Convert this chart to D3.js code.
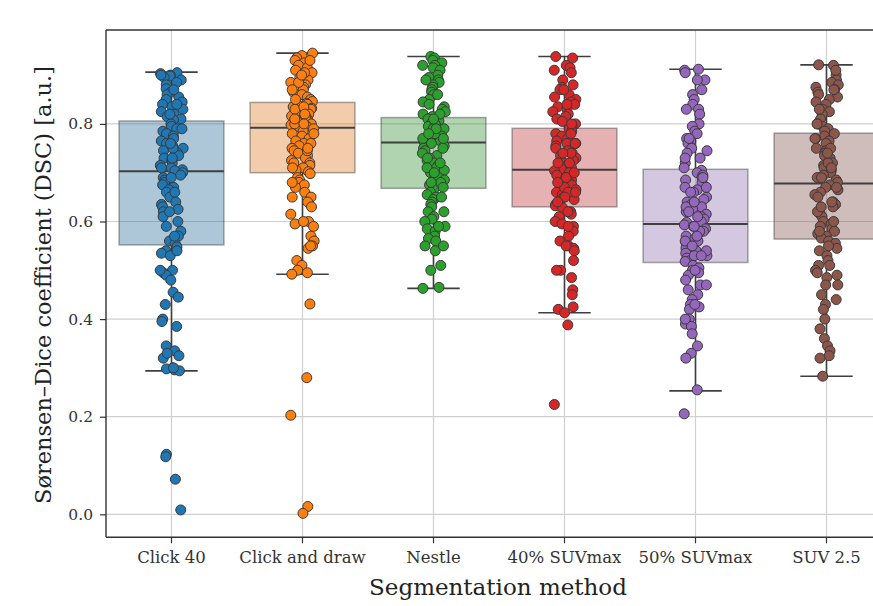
<!DOCTYPE html>
<html>
<head>
<meta charset="utf-8">
<script src="https://cdn.jsdelivr.net/npm/d3@7"></script>
<style>
  html, body { margin: 0; padding: 0; background: #ffffff; }
  svg { display: block; }
</style>
</head>
<body>
<svg id="chart" width="873" height="606"></svg>
<script>
// ---------------- DATA ----------------
const categories = ["Click 40", "Click and draw", "Nestle", "40% SUVmax", "50% SUVmax", "SUV 2.5"];

// box statistics
const q1Values      = [0.552, 0.700, 0.668, 0.630, 0.516, 0.564];
const medianValues  = [0.703, 0.792, 0.762, 0.706, 0.595, 0.678];
const q3Values      = [0.806, 0.844, 0.813, 0.791, 0.707, 0.781];
const whiskerLow    = [0.294, 0.492, 0.463, 0.413, 0.253, 0.283];
const whiskerHigh   = [0.906, 0.945, 0.938, 0.938, 0.912, 0.921];

// individual DSC values (strip points) per method
const click40 = [0.905,0.903,0.900,0.898,0.895,0.890,0.885,0.880,0.872,0.865,0.860,0.855,0.850,0.845,0.840,0.835,0.830,0.825,0.820,0.815,0.810,0.808,
  0.800,0.795,0.790,0.785,0.780,0.775,0.770,0.765,0.760,0.755,0.750,0.745,0.740,0.735,0.730,0.725,0.720,0.715,0.710,0.706,0.704,0.750,
  0.700,0.695,0.690,0.685,0.680,0.675,0.670,0.665,0.660,0.650,0.640,0.635,0.630,0.625,0.620,0.610,0.600,0.590,0.580,0.570,0.560,0.555,
  0.548,0.540,0.535,0.530,0.500,0.495,0.490,0.480,0.455,0.445,0.430,0.400,0.395,0.385,0.345,0.335,0.325,0.320,0.300,0.298,0.296,0.294,
  0.123,0.118,0.072,0.009,
  0.900,0.870,0.840,0.820,0.790,0.760,0.730,0.710,0.690,0.660,0.620,0.570,0.540,0.500,0.330,0.300];
const clickDraw = [0.945,0.940,0.935,0.930,0.925,0.920,0.915,0.910,0.905,0.900,0.895,0.890,0.885,0.880,0.875,0.870,0.865,0.860,0.855,0.850,0.846,0.905,0.885,
  0.842,0.840,0.838,0.835,0.832,0.830,0.826,0.822,0.820,0.816,0.812,0.810,0.806,0.800,0.798,0.795,0.794,0.830,0.815,0.805,0.800,
  0.790,0.785,0.780,0.775,0.770,0.765,0.760,0.755,0.750,0.745,0.740,0.735,0.730,0.725,0.720,0.715,0.710,0.705,0.702,0.760,0.745,
  0.698,0.690,0.685,0.680,0.675,0.670,0.660,0.650,0.640,0.630,0.615,0.600,0.595,0.590,0.570,0.560,0.550,0.545,0.520,0.510,0.500,0.495,0.492,
  0.431,0.280,0.203,0.016,0.002,
  0.930,0.900,0.870,0.850,0.835,0.820,0.810,0.800,0.780,0.750,0.720,0.710,0.680,0.650,0.600,0.550];
const nestle = [0.938,0.935,0.930,0.925,0.920,0.915,0.910,0.900,0.895,0.890,0.885,0.880,0.875,0.870,0.865,0.860,0.850,0.845,0.840,0.835,0.830,0.825,0.820,0.815,
  0.810,0.806,0.800,0.797,0.795,0.790,0.787,0.785,0.780,0.777,0.775,0.770,0.767,0.765,0.763,0.800,0.790,0.780,0.770,
  0.760,0.755,0.750,0.745,0.740,0.735,0.730,0.725,0.720,0.715,0.710,0.705,0.700,0.695,0.690,0.685,0.680,0.675,0.670,0.730,0.710,
  0.665,0.660,0.655,0.650,0.645,0.640,0.635,0.630,0.620,0.610,0.605,0.600,0.590,0.585,0.580,0.570,0.565,0.560,0.550,0.540,0.510,0.500,0.465,0.463,
  0.920,0.890,0.860,0.820,0.810,0.790,0.780,0.770,0.750,0.720,0.700,0.680,0.650,0.620,0.590,0.550];
const suv40 = [0.938,0.935,0.920,0.915,0.905,0.890,0.880,0.875,0.870,0.860,0.855,0.850,0.845,0.840,0.835,0.830,0.825,0.820,0.815,0.810,0.805,0.800,0.795,
  0.790,0.785,0.780,0.775,0.770,0.765,0.760,0.755,0.750,0.745,0.740,0.735,0.730,0.725,0.720,0.715,0.710,0.708,0.760,0.740,0.720,
  0.704,0.700,0.695,0.690,0.685,0.680,0.675,0.670,0.665,0.660,0.655,0.650,0.645,0.640,0.635,0.632,0.690,0.670,0.660,0.650,
  0.628,0.620,0.615,0.610,0.600,0.595,0.590,0.580,0.570,0.560,0.550,0.545,0.540,0.520,0.500,0.485,0.460,0.450,0.425,0.420,0.413,0.388,0.225,
  0.910,0.870,0.840,0.800,0.780,0.760,0.740,0.720,0.700,0.680,0.660,0.640,0.620,0.590,0.550,0.500];
const suv50 = [0.912,0.910,0.905,0.890,0.870,0.860,0.850,0.840,0.830,0.820,0.800,0.795,0.785,0.780,0.770,0.765,0.760,0.750,0.745,0.740,0.730,0.720,0.710,
  0.705,0.700,0.695,0.690,0.685,0.680,0.670,0.665,0.660,0.650,0.645,0.640,0.635,0.630,0.625,0.620,0.615,0.610,0.605,0.600,0.598,0.660,0.630,0.610,
  0.593,0.590,0.585,0.580,0.575,0.570,0.565,0.560,0.555,0.550,0.545,0.540,0.535,0.530,0.525,0.520,0.518,0.580,0.560,0.540,0.530,
  0.510,0.505,0.500,0.495,0.490,0.480,0.470,0.460,0.450,0.440,0.430,0.425,0.420,0.400,0.390,0.385,0.370,0.345,0.330,0.320,0.255,0.206,
  0.890,0.830,0.770,0.730,0.690,0.670,0.640,0.620,0.590,0.570,0.550,0.530,0.500,0.470,0.430,0.400];
const suv25 = [0.921,0.920,0.900,0.890,0.885,0.880,0.875,0.870,0.865,0.860,0.855,0.850,0.845,0.840,0.830,0.825,0.820,0.810,0.800,0.795,0.790,0.785,
  0.780,0.775,0.770,0.765,0.760,0.750,0.745,0.740,0.735,0.730,0.720,0.715,0.710,0.705,0.700,0.695,0.690,0.685,0.680,0.750,0.720,
  0.675,0.670,0.665,0.660,0.655,0.650,0.640,0.635,0.630,0.620,0.615,0.610,0.600,0.595,0.590,0.585,0.580,0.575,0.570,0.566,0.640,0.620,
  0.560,0.555,0.545,0.540,0.530,0.520,0.510,0.500,0.495,0.490,0.485,0.470,0.450,0.430,0.420,0.400,0.380,0.360,0.345,0.335,0.325,0.320,0.283,
  0.910,0.870,0.830,0.800,0.770,0.740,0.710,0.690,0.670,0.630,0.600,0.580,0.550,0.510,0.470,0.440];
const pointSeries = [click40, clickDraw, nestle, suv40, suv50, suv25];

const yTicks = [0.0, 0.2, 0.4, 0.6, 0.8];
const yDomain = [-0.0471, 0.9924];

const pointColors = ["#1f77b4", "#ff7f0e", "#2ca02c", "#d62728", "#9467bd", "#8c564b"];
const boxColors   = ["#3274a1", "#e1812c", "#3a923a", "#c03d3e", "#9372b2", "#845b53"];

// ---------------- LAYOUT ----------------
const svg = d3.select("#chart");
const margin = { left: 106, top: 30 };
const plotW = 786, plotH = 507.3;
const fontFam = "'DejaVu Serif', 'Liberation Serif', serif";

const x = d3.scaleBand().domain(categories).range([margin.left, margin.left + plotW]).paddingInner(0).paddingOuter(0);
const y = d3.scaleLinear().domain(yDomain).range([margin.top + plotH, margin.top]);
const bw = x.bandwidth();
const boxW = bw * 0.8;
const capW = boxW * 0.5;

const g = svg.append("g");

// grid
g.append("g").selectAll("line.hg").data(yTicks).join("line")
  .attr("x1", margin.left).attr("x2", margin.left + plotW)
  .attr("y1", d => y(d)).attr("y2", d => y(d))
  .attr("stroke", "#cfcfcf").attr("stroke-width", 1.2);
g.append("g").selectAll("line.vg").data(categories).join("line")
  .attr("x1", d => x(d) + bw / 2).attr("x2", d => x(d) + bw / 2)
  .attr("y1", margin.top).attr("y2", margin.top + plotH)
  .attr("stroke", "#cfcfcf").attr("stroke-width", 1.2);

// boxes
const boxData = categories.map((c, i) => ({
  c, i, q1: q1Values[i], med: medianValues[i], q3: q3Values[i], lo: whiskerLow[i], hi: whiskerHigh[i]
}));
const bg = g.append("g").selectAll("g").data(boxData).join("g");
bg.append("rect")
  .attr("x", d => x(d.c) + (bw - boxW) / 2)
  .attr("width", boxW)
  .attr("y", d => y(d.q3))
  .attr("height", d => y(d.q1) - y(d.q3))
  .attr("fill", d => boxColors[d.i]).attr("fill-opacity", 0.4)
  .attr("stroke", "#3f3f3f").attr("stroke-opacity", 0.45).attr("stroke-width", 1.5);
// whiskers
bg.append("line")
  .attr("x1", d => x(d.c) + bw / 2).attr("x2", d => x(d.c) + bw / 2)
  .attr("y1", d => y(d.q3)).attr("y2", d => y(d.hi))
  .attr("stroke", "#3f3f3f").attr("stroke-width", 1.6);
bg.append("line")
  .attr("x1", d => x(d.c) + bw / 2).attr("x2", d => x(d.c) + bw / 2)
  .attr("y1", d => y(d.q1)).attr("y2", d => y(d.lo))
  .attr("stroke", "#3f3f3f").attr("stroke-width", 1.6);
// caps
["hi", "lo"].forEach(k => {
  bg.append("line")
    .attr("x1", d => x(d.c) + bw / 2 - capW / 2).attr("x2", d => x(d.c) + bw / 2 + capW / 2)
    .attr("y1", d => y(d[k])).attr("y2", d => y(d[k]))
    .attr("stroke", "#3f3f3f").attr("stroke-width", 1.6);
});
// median
bg.append("line")
  .attr("x1", d => x(d.c) + (bw - boxW) / 2).attr("x2", d => x(d.c) + (bw + boxW) / 2)
  .attr("y1", d => y(d.med)).attr("y2", d => y(d.med))
  .attr("stroke", "#3f3f3f").attr("stroke-width", 2);

// strip points with deterministic jitter
const jitter = d3.randomUniform.source(d3.randomLcg(0.271828))(-0.09, 0.09);
const pts = [];
pointSeries.forEach((arr, i) => arr.forEach(v => pts.push({ i, v, j: jitter() })));
g.append("g").selectAll("circle").data(pts).join("circle")
  .attr("cx", d => x(categories[d.i]) + bw / 2 + d.j * bw)
  .attr("cy", d => y(d.v))
  .attr("r", 5)
  .attr("fill", d => pointColors[d.i])
  .attr("stroke", "#3a3a3a").attr("stroke-width", 1);

// axes
const yAxis = d3.axisLeft(y).tickValues(yTicks).tickFormat(d3.format(".1f")).tickSize(6).tickPadding(7);
const xAxis = d3.axisBottom(x).tickSize(6).tickPadding(8);

const ya = svg.append("g").attr("transform", `translate(${margin.left},0)`).call(yAxis);
const xa = svg.append("g").attr("transform", `translate(0,${margin.top + plotH})`).call(xAxis);
[ya, xa].forEach(a => {
  a.select(".domain").remove();
  a.selectAll(".tick line").attr("stroke", "#333").attr("stroke-width", 1.2);
  a.selectAll(".tick text").attr("fill", "#333").style("font-family", fontFam);
});
ya.selectAll(".tick text").style("font-size", "15.5px");
xa.selectAll(".tick text").style("font-size", "16.5px");

// spines
const spine = svg.append("g").attr("stroke", "#333").attr("stroke-width", 1.4).attr("fill", "none");
spine.append("line").attr("x1", margin.left).attr("x2", margin.left).attr("y1", margin.top).attr("y2", margin.top + plotH);
spine.append("line").attr("x1", margin.left).attr("x2", margin.left + plotW).attr("y1", margin.top + plotH).attr("y2", margin.top + plotH);
spine.append("line").attr("x1", margin.left).attr("x2", margin.left + plotW).attr("y1", margin.top).attr("y2", margin.top);
spine.append("line").attr("x1", margin.left + plotW).attr("x2", margin.left + plotW).attr("y1", margin.top).attr("y2", margin.top + plotH);

// labels
svg.append("text")
  .attr("x", margin.left + plotW / 2 - 1).attr("y", 595)
  .attr("text-anchor", "middle")
  .style("font-family", fontFam).style("font-size", "23px").attr("fill", "#222")
  .text("Segmentation method");
svg.append("text")
  .attr("transform", `translate(51,${285}) rotate(-90)`)
  .attr("text-anchor", "middle")
  .style("font-family", fontFam).style("font-size", "22.5px").attr("fill", "#222")
  .text("Sørensen–Dice coefficient (DSC) [a.u.]");
</script>
</body>
</html>
